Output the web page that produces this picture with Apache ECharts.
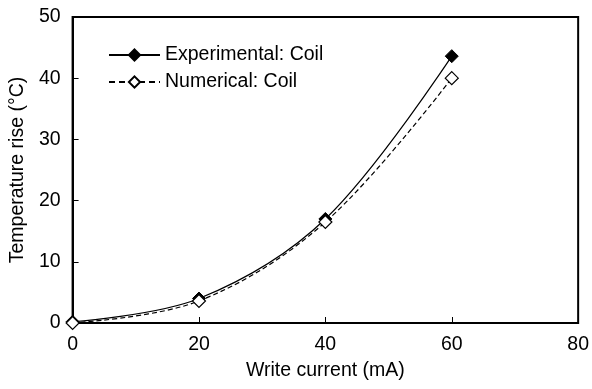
<!DOCTYPE html>
<html><head><meta charset="utf-8">
<script src="https://cdn.jsdelivr.net/npm/echarts@6/dist/echarts.min.js"></script>
<style>html,body{margin:0;padding:0;background:#fff}#c{width:592px;height:389px}</style>
</head><body><div id="c"></div>
<script>
var xValues = [0, 20, 40, 60];
var experimental = [0.2, 4.0, 17.0, 43.6];
var numerical = [0.0, 3.6, 16.5, 40.0];
var seriesNames = ['Experimental: Coil', 'Numerical: Coil'];
var xTitle = 'Write current (mA)';
var yTitle = 'Temperature rise (\u00B0C)';

function pairs(xs, ys){ return xs.map(function(x,i){ return [x, ys[i]]; }); }
var font = 'Liberation Sans, Arial, sans-serif';
var chart = echarts.init(document.getElementById('c'));
chart.setOption({
  animation:false,
  backgroundColor:'#fff',
  grid:{left:72,right:11,top:17,bottom:66,show:true,borderColor:'#000',borderWidth:2,backgroundColor:'transparent'},
  legend:{
    left:108, top:45, padding:0, orient:'vertical', itemWidth:51, itemHeight:14, itemGap:7,
    textStyle:{fontFamily:font,fontSize:19.5,color:'#000'},
    data:[
      {name:seriesNames[0]},
      {name:seriesNames[1], lineStyle:{type:[6,4]}}
    ]
  },
  xAxis:{
    type:'value', min:0, max:80, interval:20,
    name:xTitle, nameLocation:'middle', nameGap:38,
    nameTextStyle:{fontFamily:font,fontSize:19.5,color:'#000'},
    axisLine:{lineStyle:{color:'#000',width:2}},
    axisTick:{inside:true,length:6,lineStyle:{color:'#000',width:1}},
    axisLabel:{fontFamily:font,fontSize:19.5,color:'#000',margin:12},
    splitLine:{show:false}
  },
  yAxis:{
    type:'value', min:0, max:50, interval:10,
    name:yTitle, nameLocation:'middle', nameGap:43,
    nameTextStyle:{fontFamily:font,fontSize:19.5,color:'#000'},
    axisLine:{lineStyle:{color:'#000',width:2}},
    axisTick:{inside:true,length:6,lineStyle:{color:'#000',width:1}},
    axisLabel:{fontFamily:font,fontSize:19.5,color:'#000',margin:12},
    splitLine:{show:false}
  },
  series:[
    {name:seriesNames[0], type:'line', smooth:0.35, data:pairs(xValues, experimental),
     symbol:'diamond', symbolSize:13,
     lineStyle:{color:'#000',width:1.2,type:'solid'},
     itemStyle:{color:'#000',borderColor:'#000',borderWidth:1}},
    {name:seriesNames[1], type:'line', smooth:0.35, data:pairs(xValues, numerical),
     symbol:'diamond', symbolSize:13,
     lineStyle:{color:'#000',width:1.2,type:[5,3]},
     itemStyle:{color:'#fff',borderColor:'#000',borderWidth:1.2}}
  ]
});
</script></body></html>
